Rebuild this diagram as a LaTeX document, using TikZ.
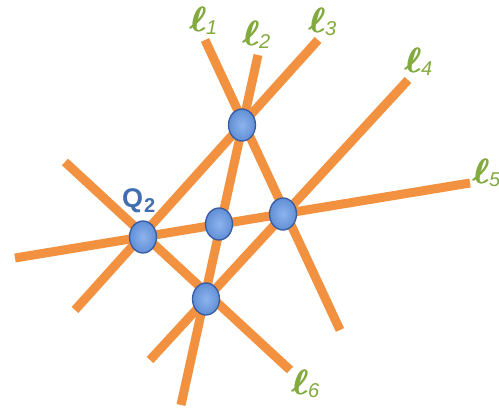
\documentclass[tikz,border=0pt]{standalone}
\usepackage{amsmath}
\usepackage{bm}
\usepackage{graphicx}
\usepackage{fontspec}
\newfontfamily\labsans{Liberation Sans}
\usetikzlibrary{shapes.geometric}
\definecolor{lineorange}{RGB}{242,146,64}
\definecolor{labgreen}{RGB}{130,170,62}
\definecolor{ptfill}{RGB}{105,155,232}
\definecolor{ptdraw}{RGB}{55,90,160}
\definecolor{qblue}{RGB}{66,110,176}
\newcommand{\bigell}{\scalebox{3.5}{$\bm{\ell}$}}
\newcommand{\lineell}[1]{\makebox[0pt][l]{\bigell}\kern0.8pt\bigell\kern-0.5pt\raisebox{-3pt}{\labsans\itshape\fontsize{20}{20}\selectfont #1}}
\tikzset{
  orangeline/.style={draw=lineorange,line width=9pt},
  crosspt/.style={ellipse,draw=ptdraw,line width=1.3pt,inner sep=0pt,
    minimum width=27pt,minimum height=32pt,
    inner color=ptfill!75!white,outer color=ptfill!92!black},
  elllabel/.style={text=labgreen,inner sep=0pt,anchor=base west}
}
\begin{document}
\begin{tikzpicture}[x=1pt,y=-1pt]
\useasboundingbox (0,0) rectangle (499,414);
% line ends
\coordinate (a1) at (205,40);  \coordinate (b1) at (340,330);
\coordinate (a2) at (258,55);  \coordinate (b2) at (181,405);
\coordinate (a3) at (318,40);  \coordinate (b3) at (75,310);
\coordinate (a4) at (408,80);  \coordinate (b4) at (150,360);
\coordinate (a5) at (470,183); \coordinate (b5) at (15,258);
\coordinate (a6) at (65,162);  \coordinate (b6) at (290,370);
\draw[orangeline] (a1) -- (b1);
\draw[orangeline] (a2) -- (b2);
\draw[orangeline] (a3) -- (b3);
\draw[orangeline] (a4) -- (b4);
\draw[orangeline] (a5) -- (b5);
\draw[orangeline] (a6) -- (b6);
% points
\node[crosspt] (A) at (242,125) {};
\node[crosspt] (Q) at (143,237) {};
\node[crosspt] (M) at (219,224) {};
\node[crosspt] (R) at (283,214) {};
\node[crosspt] (B) at (206,299) {};
% labels
\node[elllabel] (lA) at (189,32) {\lineell{1}};
\node[elllabel] (lB) at (242,46) {\lineell{2}};
\node[elllabel] (lC) at (308,33) {\lineell{3}};
\node[elllabel] (lD) at (404,73) {\lineell{4}};
\node[elllabel] (lE) at (472,184) {\lineell{5}};
\node[elllabel] (lF) at (291,395) {\lineell{6}};
\node[text=qblue,inner sep=0pt,anchor=base west] (q2) at (122,208)
  {\labsans\bfseries\fontsize{27}{27}\selectfont Q\kern1pt\raisebox{-5pt}{\fontsize{20}{20}\selectfont 2}};
\end{tikzpicture}
\end{document}
